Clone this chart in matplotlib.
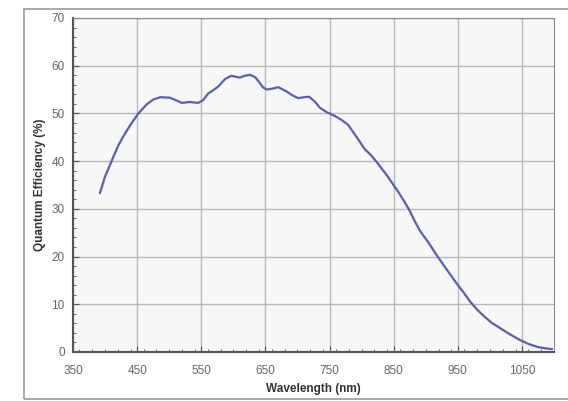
import matplotlib.pyplot as plt
from matplotlib.patches import Rectangle
from matplotlib.ticker import MultipleLocator

plt.rcParams['font.family'] = ['Liberation Sans', 'DejaVu Sans']

# 读出的曲线数据
wavelength = [392, 400, 407, 413, 420, 428, 440, 452, 465, 475, 486, 501, 510, 520,
              532, 545, 553, 561, 569, 577, 587, 597, 610, 618, 626, 634, 640, 646,
              652, 661, 670, 683, 692, 701, 710, 718, 727, 735, 745, 758, 768, 779,
              792, 805, 815, 823, 839, 855, 865, 875, 883, 891, 905, 917, 930, 948,
              960, 969, 980, 990, 1003, 1016, 1030, 1047, 1060, 1073, 1085, 1097]
qe = [33.3, 36.8, 39.0, 40.9, 43.1, 45.1, 47.7, 50.0, 51.9, 52.9, 53.4, 53.3, 52.8,
      52.2, 52.4, 52.2, 52.8, 54.2, 54.9, 55.7, 57.2, 57.9, 57.5, 57.9, 58.1, 57.6,
      56.6, 55.5, 55.0, 55.2, 55.5, 54.6, 53.8, 53.2, 53.4, 53.5, 52.5, 51.2, 50.3,
      49.5, 48.7, 47.6, 45.1, 42.5, 41.2, 39.9, 37.1, 34.0, 31.9, 29.6, 27.4, 25.4,
      22.8, 20.3, 17.8, 14.4, 12.3, 10.6, 8.9, 7.6, 6.1, 5.0, 3.8, 2.5, 1.7, 1.1,
      0.8, 0.6]

x_ticks = [350, 450, 550, 650, 750, 850, 950, 1050]
y_ticks = [0, 10, 20, 30, 40, 50, 60, 70]

fig = plt.figure(figsize=(5.68, 4.01), dpi=100)
fig.patches.append(Rectangle((24 / 568, 2 / 401), 1.0, 1 - 11 / 401,
                             transform=fig.transFigure, fill=False,
                             edgecolor='#999999', linewidth=1.2))

ax = fig.add_axes([73 / 568, 1 - 352 / 401, 481 / 568, 334 / 401])
ax.set_facecolor('#f7f7f7')

ax.plot(wavelength, qe, color='#5a5fb3', linewidth=1.6,
        solid_joinstyle='round', solid_capstyle='round')

ax.set_xlim(350, 1100)
ax.set_ylim(0, 70)
ax.set_xticks(x_ticks)
ax.set_yticks(y_ticks)
ax.xaxis.set_minor_locator(MultipleLocator(20))
ax.yaxis.set_minor_locator(MultipleLocator(2))
ax.tick_params(which='both', direction='in', colors='#555555',
               labelcolor='#666666', labelsize=8.5)
ax.tick_params(which='major', length=4)
ax.tick_params(which='minor', length=2.5)
ax.tick_params(axis='x', pad=9)
ax.tick_params(axis='y', pad=6)

ax.grid(True, which='major', color='#b8b8b8', linewidth=1.0)
ax.set_axisbelow(True)

ax.spines['left'].set_color('#555555')
ax.spines['bottom'].set_color('#555555')
ax.spines['left'].set_linewidth(1.5)
ax.spines['bottom'].set_linewidth(1.5)
ax.spines['top'].set_color('#888888')
ax.spines['right'].set_color('#888888')

ax.set_xlabel('Wavelength (nm)', fontsize=8.5, fontweight='bold', color='#333333', labelpad=5)
ax.set_ylabel('Quantum Efficiency (%)', fontsize=8.5, fontweight='bold', color='#333333', labelpad=4)

fig.savefig('out.png', dpi=100)
